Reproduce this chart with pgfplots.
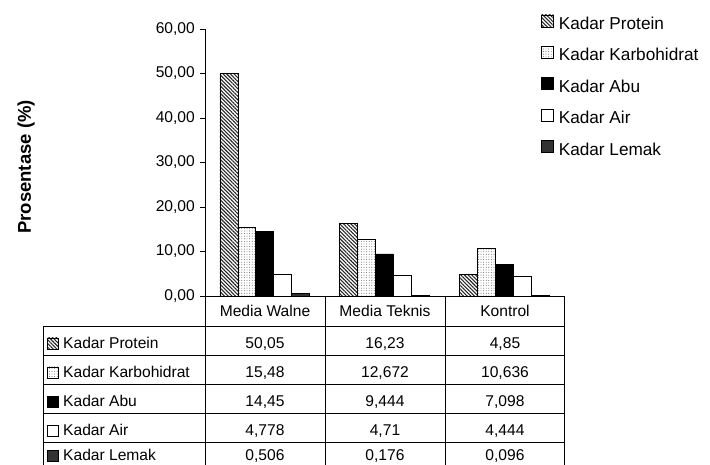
\documentclass[border=0pt]{standalone}
\usepackage{pgfplots}
\pgfplotsset{compat=1.18}
\usepackage{fontspec}
\setmainfont{Liberation Sans}
\usetikzlibrary{patterns,patterns.meta}

\tikzset{
  sP/.style={draw=black, line width=0.8pt, pattern={Lines[angle=-45,distance=2.6pt,line width=1.1pt]}, pattern color=black!85},
  sK/.style={draw=black, line width=0.8pt, pattern={Dots[distance=2.6pt,radius=0.45pt]}, pattern color=black!70},
  sA/.style={draw=black, line width=0.8pt, fill=black},
  sW/.style={draw=black, line width=0.8pt, fill=white},
  sL/.style={draw=black, line width=0.8pt, fill=black!80},
}
\newcommand{\tfont}{\fontsize{15.6}{18}\selectfont}

\begin{document}
\begin{tikzpicture}
\begin{axis}[
  at={(205pt,169pt)}, anchor=south west,
  scale only axis, width=359pt, height=267pt,
  xmin=-0.5, xmax=2.5, ymin=0, ymax=60,
  axis x line=bottom, axis y line=left,
  axis line style={-, line width=0.8pt, black},
  xtick=\empty,
  ytick={0,10,20,30,40,50,60},
  tick align=outside, major tick length=5pt,
  tick style={line width=0.8pt, black},
  yticklabel style={font=\tfont, inner sep=0pt, xshift=-5pt,
    /pgf/number format/fixed, /pgf/number format/fixed zerofill,
    /pgf/number format/precision=2, /pgf/number format/use comma,
    /pgf/number format/assume math mode=true},
  bar width=0.15,
  legend style={at={(0.936,1.054)}, anchor=north west, draw=none, fill=none,
    inner sep=0pt, outer sep=0pt, row sep=12.5pt, column sep=5pt,
    nodes={inner sep=0pt, text height=13pt, text depth=4pt,
      font=\fontsize{17.2}{20}\selectfont}},
  legend cell align=left,
]
\addplot[ybar, bar shift=-0.3, sP, legend image code/.code={\draw[sP] (0pt,-2pt) rectangle (12pt,10pt);}]
  coordinates {(0,50.05) (1,16.23) (2,4.85)};
\addplot[ybar, bar shift=-0.15, sK, legend image code/.code={\draw[sK] (0pt,-2pt) rectangle (12pt,10pt);}]
  coordinates {(0,15.48) (1,12.672) (2,10.636)};
\addplot[ybar, bar shift=0, sA, legend image code/.code={\draw[sA] (0pt,-2pt) rectangle (12pt,10pt);}]
  coordinates {(0,14.45) (1,9.444) (2,7.098)};
\addplot[ybar, bar shift=0.15, sW, legend image code/.code={\draw[sW] (0pt,-2pt) rectangle (12pt,10pt);}]
  coordinates {(0,4.778) (1,4.71) (2,4.444)};
\addplot[ybar, bar shift=0.3, sL, legend image code/.code={\draw[sL] (0pt,-2pt) rectangle (12pt,10pt);}]
  coordinates {(0,0.506) (1,0.176) (2,0.096)};
\legend{Kadar Protein, Kadar Karbohidrat, Kadar Abu, Kadar Air, Kadar Lemak}
\end{axis}

\begin{scope}[x=1pt,y=1pt]
% y label
\node[rotate=90, font=\bfseries\fontsize{18.5}{22}\selectfont] at (26,298) {Prosentase (\%)};
% data table
\begin{scope}[line width=0.8pt]
  \foreach \y in {139,110,81,52,23} \draw (43,\y) -- (564,\y);
  \foreach \x in {205,325,445,564} \draw (\x,169) -- (\x,0);
  \draw (43,139) -- (43,0);
\end{scope}
\foreach \x/\t in {265/Media Walne, 385/Media Teknis, 505/Kontrol}
  \node[anchor=base, inner sep=0pt, font=\tfont] at (\x,148) {\t};
\foreach \rb/\rs/\rn/\va/\vb/\vc in {
    116/sP/Kadar Protein/{50,05}/{16,23}/{4,85},
    87/sK/Kadar Karbohidrat/{15,48}/{12,672}/{10,636},
    58/sA/Kadar Abu/{14,45}/{9,444}/{7,098},
    29/sW/Kadar Air/{4,778}/{4,71}/{4,444},
    4/sL/Kadar Lemak/{0,506}/{0,176}/{0,096}} {
  \draw[\rs] (47.5,\rb) rectangle (58.5,\rb+11);
  \node[anchor=base west, inner sep=0pt, font=\tfont] at (63,\rb) {\rn};
  \node[anchor=base, inner sep=0pt, font=\tfont] at (265,\rb) {\va};
  \node[anchor=base, inner sep=0pt, font=\tfont] at (385,\rb) {\vb};
  \node[anchor=base, inner sep=0pt, font=\tfont] at (505,\rb) {\vc};
}
\pgfresetboundingbox
\path[use as bounding box] (0,0) rectangle (710,465);
\end{scope}
\end{tikzpicture}
\end{document}
